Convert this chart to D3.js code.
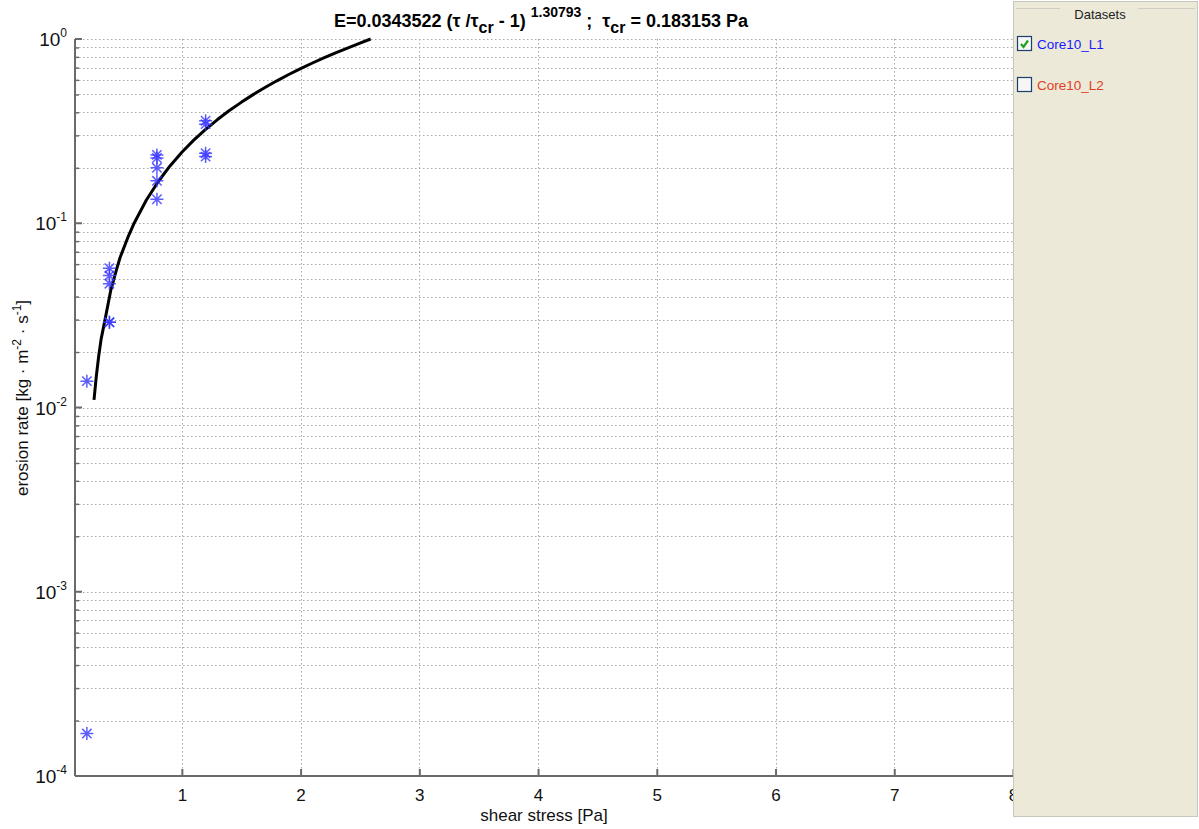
<!DOCTYPE html>
<html><head><meta charset="utf-8">
<script src="https://cdn.jsdelivr.net/npm/d3@7"></script>
<style>
html,body{margin:0;padding:0;background:#fff;}
svg{display:block;font-family:"Liberation Sans",Arial,sans-serif;}
</style></head>
<body>
<svg id="chart" width="1199" height="829"></svg>
<script>
// ---- data ----
const stressL1 = [0.2, 0.2, 0.39, 0.39, 0.39, 0.39, 0.39, 0.79, 0.79, 0.79, 0.79, 0.79, 1.2, 1.2, 1.2, 1.2];
const erosionL1 = [0.0139, 0.00017, 0.057, 0.052, 0.047, 0.029, 0.029, 0.235, 0.226, 0.2, 0.17, 0.135, 0.36, 0.345, 0.24, 0.23];
const fitStress = [0.26, 0.28, 0.3, 0.32, 0.353, 0.4, 0.45, 0.479, 0.55, 0.6, 0.7, 0.8, 0.9, 1.0, 1.1, 1.2, 1.3, 1.4, 1.5, 1.6, 1.7, 1.8, 1.9, 2.0, 2.1, 2.2, 2.3, 2.4, 2.5, 2.59];
const fitErosion = [0.0110, 0.0149, 0.0191, 0.0235, 0.0300, 0.0429, 0.0562, 0.0650, 0.0852, 0.1007, 0.1334, 0.168, 0.2047, 0.243, 0.2824, 0.323, 0.3655, 0.4089, 0.453, 0.499, 0.5455, 0.593, 0.6415, 0.691, 0.741, 0.792, 0.844, 0.896, 0.9495, 1.0];
const xTicks = [1, 2, 3, 4, 5, 6, 7, 8];
const yMajor = [-4, -3, -2, -1, 0];
const datasets = ["Core10_L1", "Core10_L2"];
const datasetChecked = [true, false];

const svg = d3.select("#chart");
const x = d3.scaleLinear().domain([0.1, 8]).range([75, 1013]);
const y = d3.scaleLog().domain([1e-4, 1]).range([776, 39]);

// minor values
const yMinor = [];
for (let e = -4; e < 0; e++) for (let m = 2; m <= 9; m++) yMinor.push(m * Math.pow(10, e));

const grid = svg.append("g");
const gridStyle = s => s.attr("stroke", "#a8a8a8").attr("stroke-width", 1).attr("stroke-dasharray", "1.5,2.5");
grid.selectAll(".gy").data(yMinor.concat(yMajor.map(e => Math.pow(10, e)))).join("line")
  .attr("x1", x(0.1)).attr("x2", x(8)).attr("y1", d => Math.round(y(d)) + 0.5).attr("y2", d => Math.round(y(d)) + 0.5)
  .call(gridStyle);
grid.selectAll(".gx").data(xTicks).join("line")
  .attr("y1", y(1)).attr("y2", y(1e-4)).attr("x1", d => Math.round(x(d)) + 0.5).attr("x2", d => Math.round(x(d)) + 0.5)
  .call(gridStyle);

// axes
const axisColor = "#6a6a6a";
const xAxis = svg.append("g").attr("transform", `translate(0,${y(1e-4)})`)
  .call(d3.axisBottom(x).tickValues(xTicks).tickSize(-7).tickPadding(13).tickFormat(d3.format("d")));
xAxis.select(".domain").attr("stroke", axisColor).attr("stroke-width", 2).attr("d", `M${x(0.1)},0H${x(8)}`);
xAxis.selectAll(".tick line").attr("stroke", axisColor).attr("stroke-width", 2);
xAxis.selectAll(".tick text").attr("font-size", 17).attr("fill", "#111").attr("font-family", "Liberation Sans, Arial, sans-serif");

const yAxis = svg.append("g").attr("transform", `translate(${x(0.1)},0)`)
  .call(d3.axisLeft(y).tickValues(yMinor).tickSize(-4).tickFormat(""));
yAxis.select(".domain").attr("stroke", axisColor).attr("stroke-width", 2).attr("d", `M0,${y(1e-4)}V${y(1)}`);
yAxis.selectAll(".tick line").attr("stroke", axisColor).attr("stroke-width", 1.5);
const yMaj = svg.append("g").attr("transform", `translate(${x(0.1)},0)`);
yMaj.selectAll("line").data(yMajor).join("line")
  .attr("x1", 0).attr("x2", 7).attr("y1", d => y(Math.pow(10, d))).attr("y2", d => y(Math.pow(10, d)))
  .attr("stroke", axisColor).attr("stroke-width", 2);
const yl = yMaj.selectAll("text").data(yMajor).join("text")
  .attr("x", -8).attr("y", d => y(Math.pow(10, d)) + 7)
  .attr("text-anchor", "end").attr("font-size", 19).attr("fill", "#111");
yl.append("tspan").text("10");
yl.append("tspan").attr("dy", -9).attr("font-size", 12).text(d => d === 0 ? "0" : "-" + Math.abs(d));

// fit curve
const line = d3.line().x((d, i) => x(fitStress[i])).y((d, i) => y(fitErosion[i])).curve(d3.curveLinear);
svg.append("path").datum(fitStress).attr("d", line).attr("fill", "none").attr("stroke", "#000")
  .attr("stroke-width", 3).attr("stroke-linejoin", "round");

// asterisk markers
const r = 6.5, rd = r * 0.72;
const star = `M${-r},0H${r}M0,${-r}V${r}M${-rd},${-rd}L${rd},${rd}M${-rd},${rd}L${rd},${-rd}`;
svg.append("g").selectAll("path").data(stressL1).join("path")
  .attr("transform", (d, i) => `translate(${x(d)},${y(erosionL1[i])})`)
  .attr("d", star).attr("stroke", "#3535ff").attr("stroke-width", 1.5).attr("fill", "none").attr("stroke-opacity", 0.8);

// title
const t = svg.append("text").attr("x", 541).attr("y", 27).attr("text-anchor", "middle")
  .attr("font-size", 18).attr("font-weight", "bold").attr("fill", "#000").attr("xml:space", "preserve");
t.append("tspan").text("E=0.0343522 (τ /τ");
t.append("tspan").attr("dy", 6).attr("font-size", 16).text("cr");
t.append("tspan").attr("dy", -6).text(" - 1) ");
t.append("tspan").attr("dy", -10).attr("font-size", 14).text("1.30793");
t.append("tspan").attr("dy", 10).text(" ;  τ");
t.append("tspan").attr("dy", 6).attr("font-size", 16).text("cr");
t.append("tspan").attr("dy", -6).text(" = 0.183153 Pa");

// axis labels
svg.append("text").attr("x", 544).attr("y", 821).attr("text-anchor", "middle").attr("font-size", 17).attr("fill", "#111")
  .text("shear stress [Pa]");
const yt = svg.append("text").attr("transform", "translate(28,398) rotate(-90)").attr("text-anchor", "middle")
  .attr("font-size", 17).attr("fill", "#111");
yt.append("tspan").text("erosion rate [kg · m");
yt.append("tspan").attr("dy", -7).attr("font-size", 12).text("-2");
yt.append("tspan").attr("dy", 7).text(" · s");
yt.append("tspan").attr("dy", -7).attr("font-size", 12).text("-1");
yt.append("tspan").attr("dy", 7).text("]");

// dataset panel
const panel = svg.append("g");
panel.append("rect").attr("x", 1013.5).attr("y", 1.5).attr("width", 184).attr("height", 815)
  .attr("fill", "#ece9d8").attr("stroke", "#c8c6bc").attr("stroke-width", 1);
panel.append("line").attr("x1", 1016).attr("x2", 1195).attr("y1", 8.5).attr("y2", 8.5).attr("stroke", "#d0cec4");
panel.append("rect").attr("x", 1060).attr("y", 2).attr("width", 78).attr("height", 14).attr("fill", "#ece9d8");
panel.append("text").attr("x", 1100).attr("y", 19).attr("text-anchor", "middle").attr("font-size", 13).attr("fill", "#222").text("Datasets");
const dsColors = ["#1a1aff", "#e0401c"];
const rowY = [44, 85];
const rows = panel.selectAll(".row").data(datasets).join("g").attr("transform", (d, i) => `translate(1017,${rowY[i]})`);
rows.append("rect").attr("x", 0.5).attr("y", -7.5).attr("width", 14).attr("height", 14)
  .attr("fill", "#f6f6f4").attr("stroke", "#1c3f6e").attr("stroke-width", 1.2);
rows.filter((d, i) => datasetChecked[i]).append("path").attr("d", "M4,0L6.5,3L11,-3.5")
  .attr("fill", "none").attr("stroke", "#22a022").attr("stroke-width", 2.2);
rows.append("text").attr("x", 20).attr("y", 5).attr("font-size", 13.5).attr("fill", (d, i) => dsColors[i]).text(d => d);
</script>
</body></html>
